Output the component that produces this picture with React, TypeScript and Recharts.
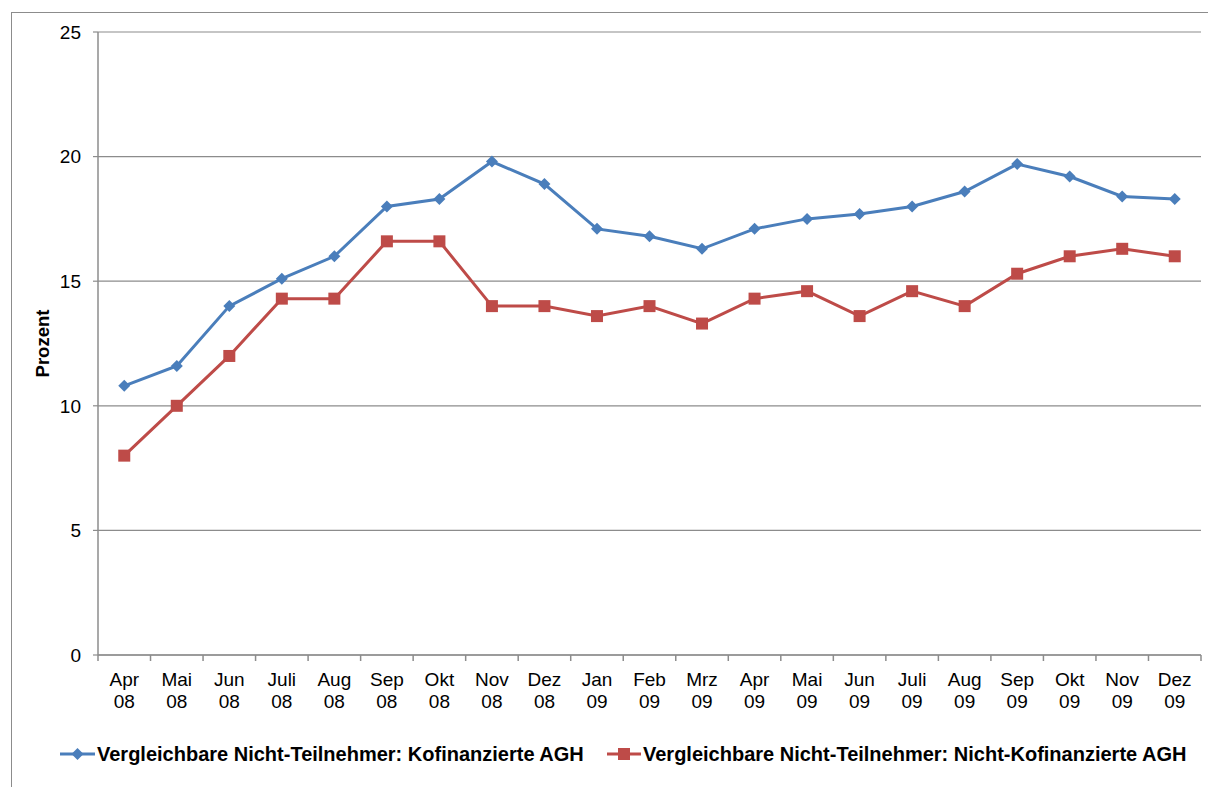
import React from "react";
import { LineChart, Line, XAxis, YAxis, CartesianGrid } from "recharts";

const months = ["Apr 08","Mai 08","Jun 08","Juli 08","Aug 08","Sep 08","Okt 08","Nov 08","Dez 08","Jan 09","Feb 09","Mrz 09","Apr 09","Mai 09","Jun 09","Juli 09","Aug 09","Sep 09","Okt 09","Nov 09","Dez 09"];
const kofinanziert = [10.8,11.6,14.0,15.1,16.0,18.0,18.3,19.8,18.9,17.1,16.8,16.3,17.1,17.5,17.7,18.0,18.6,19.7,19.2,18.4,18.3];
const nichtKofinanziert = [8.0,10.0,12.0,14.3,14.3,16.6,16.6,14.0,14.0,13.6,14.0,13.3,14.3,14.6,13.6,14.6,14.0,15.3,16.0,16.3,16.0];
const yTicks = [0,5,10,15,20,25];
const seriesNames = ["Vergleichbare Nicht-Teilnehmer: Kofinanzierte AGH","Vergleichbare Nicht-Teilnehmer: Nicht-Kofinanzierte AGH"];

const BLUE = "#4A7EBB";
const RED = "#BE4B48";
const GRID = "#8C8C8C";
const FONT = "'Liberation Sans', Arial, sans-serif";

const data = months.map((m, i) => ({ month: m, a: kofinanziert[i], b: nichtKofinanziert[i] }));

const PLOT_LEFT = 98;
const PLOT_RIGHT = 1201;
const BAND = (PLOT_RIGHT - PLOT_LEFT) / months.length;

const Diamond = (props: any) => {
  const { cx, cy, index } = props;
  const s = 6;
  return <path key={"d" + index} d={`M${cx},${cy - s}L${cx + s},${cy}L${cx},${cy + s}L${cx - s},${cy}Z`} fill={BLUE} />;
};
const Square = (props: any) => {
  const { cx, cy, index } = props;
  const s = 6;
  return <rect key={"s" + index} x={cx - s} y={cy - s} width={2 * s} height={2 * s} fill={RED} />;
};

const XTick = (props: any) => {
  const { x, y, payload, index } = props;
  const parts = String(payload.value).split(" ");
  const last = index === months.length - 1;
  const axisY = y - 8;
  return (
    <g>
      <line x1={x - BAND / 2} x2={x - BAND / 2} y1={axisY} y2={axisY + 6} stroke={GRID} strokeWidth={1.5} />
      {last && <line x1={x + BAND / 2} x2={x + BAND / 2} y1={axisY} y2={axisY + 6} stroke={GRID} strokeWidth={1.5} />}
      <text x={x} y={axisY + 31} textAnchor="middle" fontFamily={FONT} fontSize={19} fill="#000">{parts[0]}</text>
      <text x={x} y={axisY + 53} textAnchor="middle" fontFamily={FONT} fontSize={19} fill="#000">{parts[1]}</text>
    </g>
  );
};

const ChartLegend = () => (
  <svg width={1208} height={40} style={{ position: "absolute", left: 0, top: 734 }}>
    <line x1={60} x2={95} y1={20} y2={20} stroke={BLUE} strokeWidth={3} />
    <path d="M77.5,14L83.5,20L77.5,26L71.5,20Z" fill={BLUE} />
    <text x={97} y={27} fontFamily={FONT} fontWeight="bold" fontSize={20} fill="#000">{seriesNames[0]}</text>
    <line x1={607} x2={641} y1={20} y2={20} stroke={RED} strokeWidth={3} />
    <rect x={618} y={14} width={12} height={12} fill={RED} />
    <text x={643} y={27} fontFamily={FONT} fontWeight="bold" fontSize={20} fill="#000">{seriesNames[1]}</text>
  </svg>
);

export default function App() {
  return (
    <div style={{ position: "absolute", left: 0, top: 0, width: 1208, height: 787, overflow: "hidden", background: "#fff" }}>
      <div style={{ position: "absolute", left: 11, top: 12, width: 1220, height: 800, border: "1px solid #8C8C8C", boxSizing: "border-box" }} />
      <div style={{ position: "absolute", left: 0, top: 0 }}>
        <LineChart width={1208} height={787} data={data} margin={{ top: 32, right: 7, bottom: 72, left: 0 }}>
          <CartesianGrid vertical={false} stroke={GRID} strokeWidth={1.2} />
          <XAxis
            dataKey="month"
            interval={0}
            padding={{ left: BAND / 2, right: BAND / 2 }}
            tickLine={false}
            axisLine={{ stroke: GRID, strokeWidth: 1.5 }}
            tick={<XTick />}
            height={60}
          />
          <YAxis
            domain={[0, 25]}
            ticks={yTicks}
            width={98}
            tickSize={5}
            tickMargin={12}
            tickLine={{ stroke: GRID, strokeWidth: 1.2 }}
            axisLine={{ stroke: GRID, strokeWidth: 1.5 }}
            tick={{ fontFamily: FONT, fontSize: 19, fill: "#000" }}
            label={{ value: "Prozent", angle: -90, position: "insideLeft", offset: 0, dx: 42, style: { fontFamily: FONT, fontWeight: "bold", fontSize: 18.5, fill: "#000", textAnchor: "middle" } }}
          />
          <Line dataKey="a" name={seriesNames[0]} stroke={BLUE} strokeWidth={3} dot={Diamond} isAnimationActive={false} />
          <Line dataKey="b" name={seriesNames[1]} stroke={RED} strokeWidth={3} dot={Square} isAnimationActive={false} />
        </LineChart>
      </div>
      <ChartLegend />
    </div>
  );
}
